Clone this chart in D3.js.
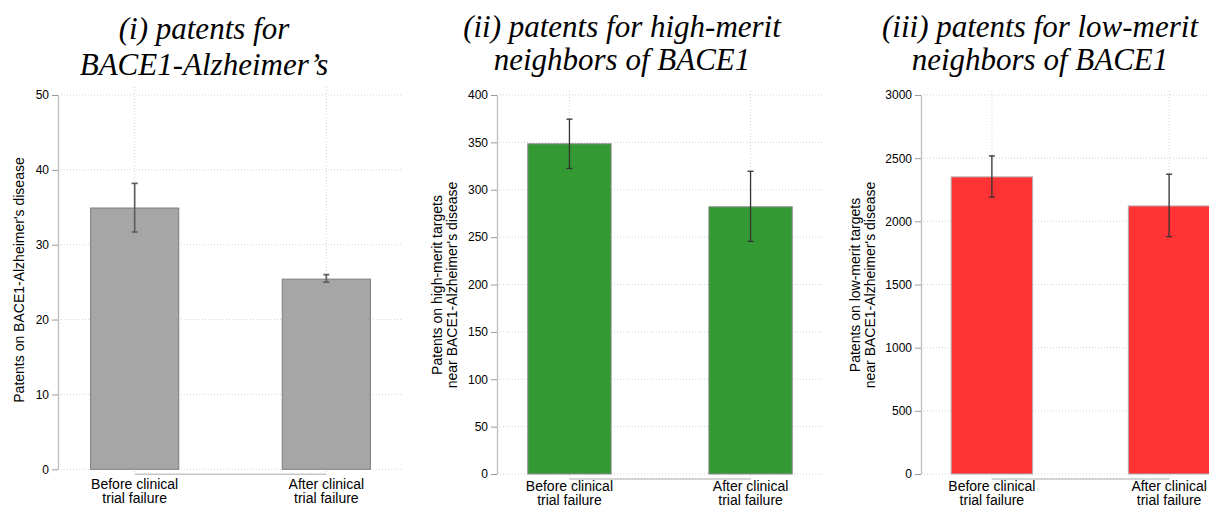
<!DOCTYPE html>
<html>
<head>
<meta charset="utf-8">
<script src="https://cdn.jsdelivr.net/npm/d3@7"></script>
<style>
  html, body { margin: 0; padding: 0; background: #fff; }
  svg { display: block; }
  .tick-label { font-family: "Liberation Sans", Arial, Helvetica, sans-serif; font-size: 12px; fill: #000; }
  .cat-label { font-family: "Liberation Sans", Arial, Helvetica, sans-serif; font-size: 14px; fill: #000; }
  .y-title { font-family: "Liberation Sans", Arial, Helvetica, sans-serif; font-size: 14px; fill: #000; }
  .panel-title { font-family: "Liberation Serif", "Times New Roman", Times, serif; font-style: italic; font-size: 31px; fill: #000; }
</style>
</head>
<body>
<svg id="chart" width="1209" height="508"></svg>
<script>
// Categories shared by all three panels
const categories = ["Before clinical trial failure", "After clinical trial failure"];
const categoryLines = [["Before clinical", "trial failure"], ["After clinical", "trial failure"]];

// (i) patents on BACE1-Alzheimer's disease: mean and confidence bounds
const bace1Mean  = [34.9, 25.4];
const bace1Lower = [31.7, 25.0];
const bace1Upper = [38.2, 26.0];
const bace1Ticks = [0, 10, 20, 30, 40, 50];

// (ii) patents on high-merit neighbouring targets
const highMean  = [348.5, 282];
const highLower = [322.5, 245.5];
const highUpper = [374.5, 319.5];
const highTicks = [0, 50, 100, 150, 200, 250, 300, 350, 400];

// (iii) patents on low-merit neighbouring targets
const lowMean  = [2352, 2122];
const lowLower = [2191, 1879];
const lowUpper = [2518, 2373];
const lowTicks = [0, 500, 1000, 1500, 2000, 2500, 3000];

const panelTitles = [
  ["(i) patents for", "BACE1-Alzheimer\u2019s"],
  ["(ii) patents for high-merit", "neighbors of BACE1"],
  ["(iii) patents for low-merit", "neighbors of BACE1"]
];
const yTitles = [
  ["Patents on BACE1-Alzheimer's disease"],
  ["Patents on high-merit targets", "near BACE1-Alzheimer's disease"],
  ["Patents on low-merit targets", "near BACE1-Alzheimer's disease"]
];

const panels = [
  { mean: bace1Mean, lower: bace1Lower, upper: bace1Upper, ticks: bace1Ticks, yMax: 50,
    title: panelTitles[0], yTitle: yTitles[0],
    layout: { x0: 58, x1: 403, top: 95, bottom: 469.3, gridTop: 87, titleX: 204, titleY: [39, 75],
              yTitleX: [19], yTitleY: 280, catY: [489, 503] },
    style: { fill: "#a6a6a6", stroke: "#7d7d7d", err: "#5e5e5e", errW: 1.7 } },
  { mean: highMean, lower: highLower, upper: highUpper, ticks: highTicks, yMax: 400,
    title: panelTitles[1], yTitle: yTitles[1],
    layout: { x0: 497, x1: 823, top: 95, bottom: 474, gridTop: 91, titleX: 622, titleY: [36.5, 70],
              yTitleX: [437, 452], yTitleY: 285, catY: [491, 505] },
    style: { fill: "#339933", stroke: "#8a8a8a", err: "#333333", errW: 1.3 } },
  { mean: lowMean, lower: lowLower, upper: lowUpper, ticks: lowTicks, yMax: 3000,
    title: panelTitles[2], yTitle: yTitles[2],
    layout: { x0: 921, x1: 1240, top: 95, bottom: 474, gridTop: 91, titleX: 1040, titleY: [36.5, 70],
              yTitleX: [855, 870], yTitleY: 285, catY: [491, 505] },
    style: { fill: "#ff3333", stroke: "#b4b4b4", err: "#333333", errW: 1.3 } }
];

const svg = d3.select("#chart");

panels.forEach(p => {
  const L = p.layout;
  const g = svg.append("g");

  const x = d3.scalePoint().domain(categories).range([L.x0, L.x1]).padding(0.4);
  const y = d3.scaleLinear().domain([0, p.yMax]).range([L.bottom, L.top]);
  const barW = x.step() * 0.46;

  // Dotted horizontal grid at every tick
  g.append("g").selectAll("line").data(p.ticks).join("line")
    .attr("x1", L.x0).attr("x2", L.x1)
    .attr("y1", d => y(d)).attr("y2", d => y(d))
    .attr("stroke", "#d4d4d4").attr("stroke-width", 1).attr("stroke-dasharray", "1,2");

  // Dotted vertical grid through the category positions
  g.append("g").selectAll("line").data(categories).join("line")
    .attr("x1", d => x(d)).attr("x2", d => x(d))
    .attr("y1", L.gridTop).attr("y2", L.bottom + 5)
    .attr("stroke", "#d4d4d4").attr("stroke-width", 1).attr("stroke-dasharray", "1,2");

  // Bars
  g.append("g").selectAll("rect").data(p.mean).join("rect")
    .attr("x", (d, i) => x(categories[i]) - barW / 2)
    .attr("width", barW)
    .attr("y", d => y(d))
    .attr("height", d => y(0) - y(d))
    .attr("fill", p.style.fill)
    .attr("stroke", p.style.stroke).attr("stroke-width", 1);

  // Error bars with caps
  const eb = g.append("g").attr("stroke", p.style.err).attr("stroke-width", p.style.errW);
  categories.forEach((c, i) => {
    const cx = x(c);
    eb.append("line").attr("x1", cx).attr("x2", cx).attr("y1", y(p.lower[i])).attr("y2", y(p.upper[i]));
    eb.append("line").attr("x1", cx - 3).attr("x2", cx + 3).attr("y1", y(p.lower[i])).attr("y2", y(p.lower[i]));
    eb.append("line").attr("x1", cx - 3).attr("x2", cx + 3).attr("y1", y(p.upper[i])).attr("y2", y(p.upper[i]));
  });

  // Y axis
  const yAxis = d3.axisLeft(y).tickValues(p.ticks).tickFormat(d3.format("d"))
    .tickSize(6).tickPadding(3).tickSizeOuter(0);
  const ya = g.append("g").attr("transform", `translate(${L.x0},0)`).call(yAxis);
  ya.attr("font-size", null).attr("font-family", null);
  ya.select(".domain").attr("stroke", "#bdbdbd").attr("stroke-width", 1.3);
  ya.selectAll(".tick line").attr("stroke", "#9a9a9a").attr("stroke-width", 1);
  ya.selectAll(".tick text").attr("class", "tick-label").attr("fill", null);

  // X axis baseline joining the two categories
  g.append("line")
    .attr("x1", x(categories[0])).attr("x2", x(categories[1]))
    .attr("y1", L.bottom + 5).attr("y2", L.bottom + 5)
    .attr("stroke", "#c6c6c6").attr("stroke-width", 1.5);

  // Category labels (two lines each)
  categories.forEach((c, i) => {
    categoryLines[i].forEach((line, j) => {
      g.append("text").attr("class", "cat-label")
        .attr("x", x(c)).attr("y", L.catY[j])
        .attr("text-anchor", "middle").text(line);
    });
  });

  // Y axis title (rotated)
  p.yTitle.forEach((line, j) => {
    g.append("text").attr("class", "y-title")
      .attr("transform", `translate(${L.yTitleX[j]},${L.yTitleY}) rotate(-90)`)
      .attr("text-anchor", "middle").attr("dy", "0.35em").text(line);
  });

  // Panel title
  p.title.forEach((line, j) => {
    g.append("text").attr("class", "panel-title")
      .attr("x", L.titleX).attr("y", L.titleY[j])
      .attr("text-anchor", "middle").text(line);
  });
});
</script>
</body>
</html>
